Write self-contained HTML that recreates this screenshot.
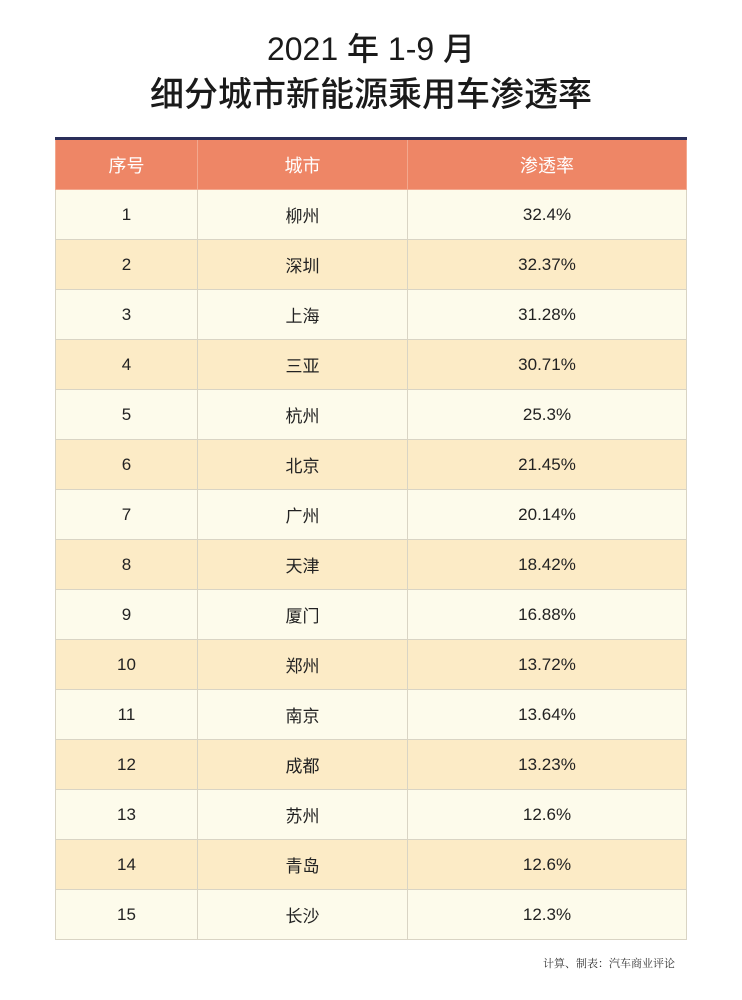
<!DOCTYPE html>
<html><head><meta charset="utf-8"><style>
body{margin:0;width:742px;height:1000px;background:#fff;font-family:"Liberation Sans","Noto Sans CJK SC",sans-serif;position:relative;overflow:hidden}
.t{position:absolute;left:0;width:742px;text-align:center;color:#1a1a1a;line-height:40px;font-weight:500}
table{position:absolute;left:55px;top:137px;width:632px;border-collapse:collapse;border-top:3px solid #2a2f5a}
td{height:49px;border:1px solid #d9d4c4;text-align:center;font-size:17px;color:#222;padding:0}
tr.h td{background:#ee8666;color:#fff;font-size:18px;border-color:#f3a88e}
tr.o td{background:#fdfbeb}
tr.e td{background:#fcebc6}
.src{position:absolute;left:543px;top:955px;font-size:11px;color:#333;font-family:"Liberation Serif","Noto Serif CJK SC",serif}
</style></head><body>
<div class="t" style="top:29px;font-size:32px">2021 年 1-9 月</div>
<div class="t" style="top:75px;font-size:34px">细分城市新能源乘用车渗透率</div>
<table>
<tr class="h"><td style="width:141px">序号</td><td style="width:209px">城市</td><td>渗透率</td></tr>
<tr class="o"><td>1</td><td>柳州</td><td>32.4%</td></tr>
<tr class="e"><td>2</td><td>深圳</td><td>32.37%</td></tr>
<tr class="o"><td>3</td><td>上海</td><td>31.28%</td></tr>
<tr class="e"><td>4</td><td>三亚</td><td>30.71%</td></tr>
<tr class="o"><td>5</td><td>杭州</td><td>25.3%</td></tr>
<tr class="e"><td>6</td><td>北京</td><td>21.45%</td></tr>
<tr class="o"><td>7</td><td>广州</td><td>20.14%</td></tr>
<tr class="e"><td>8</td><td>天津</td><td>18.42%</td></tr>
<tr class="o"><td>9</td><td>厦门</td><td>16.88%</td></tr>
<tr class="e"><td>10</td><td>郑州</td><td>13.72%</td></tr>
<tr class="o"><td>11</td><td>南京</td><td>13.64%</td></tr>
<tr class="e"><td>12</td><td>成都</td><td>13.23%</td></tr>
<tr class="o"><td>13</td><td>苏州</td><td>12.6%</td></tr>
<tr class="e"><td>14</td><td>青岛</td><td>12.6%</td></tr>
<tr class="o"><td>15</td><td>长沙</td><td>12.3%</td></tr>
</table>
<div class="src">计算、制表：汽车商业评论</div>
</body></html>
